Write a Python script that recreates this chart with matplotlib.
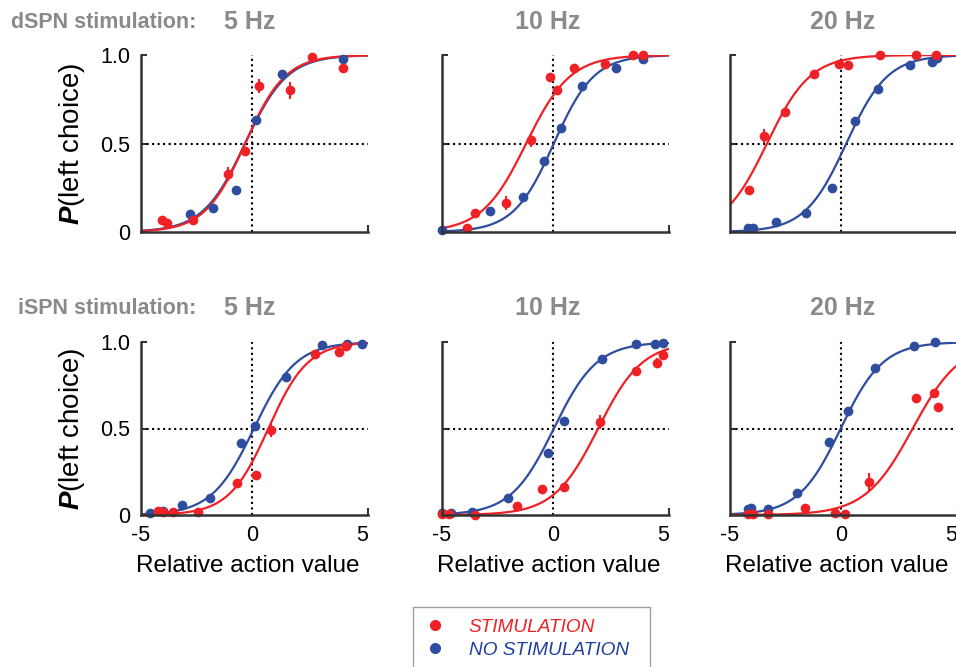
import numpy as np
import matplotlib.pyplot as plt
from matplotlib.lines import Line2D
from matplotlib.patches import Rectangle

plt.rcParams['font.family'] = ['Liberation Sans', 'DejaVu Sans']
plt.rcParams['mathtext.fontset'] = 'custom'
plt.rcParams['mathtext.rm'] = 'Liberation Sans'
plt.rcParams['mathtext.bfit'] = 'Liberation Sans:bold:italic'

RED = '#ee2226'
BLUE = '#2f4d9e'
GRAY = '#8a8a8a'

rows = ['dSPN stimulation:', 'iSPN stimulation:']
freqs = ['5 Hz', '10 Hz', '20 Hz']

# fitted logistic curves (midpoint, slope): [row][col]
stim_fit = [[(-0.3, 1.1), (-1.2, 1.0), (-3.33, 1.02)],
            [(0.75, 1.12), (2.05, 1.0), (3.25, 0.93)]]
nostim_fit = [[(-0.3, 1.05), (0.05, 1.1), (0.25, 1.07)],
              [(0.1, 1.05), (0.05, 1.03), (0.0, 1.05)]]

# dSPN 5 Hz
d5_stim_x = [-4.07, -3.84, -2.64, -1.07, -0.32, 0.33, 1.71, 2.73, 4.14]
d5_stim_p = [0.068, 0.053, 0.068, 0.33, 0.46, 0.825, 0.80, 0.99, 0.925]
d5_stim_err = [0, 0, 0, 0.04, 0, 0.04, 0.05, 0, 0]
d5_nostim_x = [-2.79, -1.77, -0.72, 0.18, 1.35, 4.11]
d5_nostim_p = [0.10, 0.134, 0.24, 0.63, 0.89, 0.98]

# dSPN 10 Hz
d10_stim_x = [-3.89, -3.51, -2.09, -1.0, -0.13, 0.19, 0.97, 2.36, 3.63, 4.08]
d10_stim_p = [0.02, 0.11, 0.166, 0.52, 0.877, 0.80, 0.925, 0.95, 1.0, 1.0]
d10_stim_err = [0, 0, 0.04, 0.04, 0, 0, 0, 0.03, 0, 0]
d10_nostim_x = [-5.0, -2.83, -1.35, -0.40, 0.37, 1.30, 2.87, 4.08]
d10_nostim_p = [0.01, 0.12, 0.20, 0.40, 0.585, 0.825, 0.925, 0.975]

# dSPN 20 Hz
d20_stim_x = [-4.13, -3.45, -2.51, -1.21, -0.09, 0.33, 1.78, 3.42, 4.32]
d20_stim_p = [0.237, 0.542, 0.68, 0.893, 0.95, 0.943, 1.0, 1.0, 1.0]
d20_stim_err = [0, 0.04, 0, 0, 0, 0, 0, 0, 0]
d20_nostim_x = [-4.2, -3.98, -2.93, -1.58, -0.39, 0.66, 1.70, 3.15, 4.14, 4.35]
d20_nostim_p = [0.02, 0.02, 0.055, 0.11, 0.25, 0.627, 0.81, 0.943, 0.962, 0.985]

# iSPN 5 Hz
i5_stim_x = [-4.22, -4.0, -3.55, -2.42, -0.66, 0.18, 0.89, 2.84, 3.93, 4.26]
i5_stim_p = [0.023, 0.015, 0.02, 0.02, 0.187, 0.23, 0.49, 0.93, 0.94, 0.977]
i5_stim_err = [0, 0, 0, 0.015, 0.02, 0, 0.04, 0, 0, 0]
i5_nostim_x = [-4.6, -4.0, -3.17, -1.89, -0.47, 0.17, 1.56, 3.18, 4.29, 5.0]
i5_nostim_p = [0.01, 0.023, 0.058, 0.10, 0.414, 0.516, 0.80, 0.98, 0.988, 0.99]

# iSPN 10 Hz
i10_stim_x = [-5.0, -4.7, -3.51, -1.6, -0.48, 0.52, 2.14, 3.74, 4.71, 5.0]
i10_stim_p = [0.004, 0.004, 0.0, 0.052, 0.148, 0.164, 0.54, 0.834, 0.877, 0.925]
i10_stim_err = [0, 0, 0, 0, 0, 0, 0.04, 0, 0.03, 0]
i10_nostim_x = [-5.0, -4.59, -3.63, -2.02, -0.22, 0.52, 2.24, 3.78, 4.63, 5.0]
i10_nostim_p = [0.01, 0.013, 0.02, 0.096, 0.36, 0.545, 0.90, 0.988, 0.988, 0.996]

# iSPN 20 Hz
i20_stim_x = [-4.2, -3.98, -3.3, -1.61, -0.27, 0.21, 1.26, 3.38, 4.22, 4.39]
i20_stim_p = [0.004, 0.004, 0.004, 0.042, 0.01, 0.004, 0.19, 0.678, 0.703, 0.622]
i20_stim_err = [0, 0, 0, 0, 0, 0, 0.05, 0, 0, 0]
i20_nostim_x = [-4.2, -4.05, -3.3, -1.96, -0.54, 0.33, 1.55, 3.32, 4.27]
i20_nostim_p = [0.035, 0.042, 0.035, 0.125, 0.424, 0.60, 0.85, 0.977, 1.0]

stim_pts = [[(d5_stim_x, d5_stim_p, d5_stim_err), (d10_stim_x, d10_stim_p, d10_stim_err),
             (d20_stim_x, d20_stim_p, d20_stim_err)],
            [(i5_stim_x, i5_stim_p, i5_stim_err), (i10_stim_x, i10_stim_p, i10_stim_err),
             (i20_stim_x, i20_stim_p, i20_stim_err)]]
nostim_pts = [[(d5_nostim_x, d5_nostim_p), (d10_nostim_x, d10_nostim_p), (d20_nostim_x, d20_nostim_p)],
              [(i5_nostim_x, i5_nostim_p), (i10_nostim_x, i10_nostim_p), (i20_nostim_x, i20_nostim_p)]]


def logistic(x, x0, k):
    return 1.0 / (1.0 + np.exp(-k * (x - x0)))


W, H = 956, 667
fig = plt.figure(figsize=(W / 100, H / 100), dpi=100)

col_left = [141, 442, 730]
row_bottom = [232, 515]
row_height = [177, 173]
hz_x = [250, 548, 843]
hdr_y = [22, 308]

xs = np.linspace(-5, 5.3, 300)
for r in range(2):
    fig.text(196 / W, 1 - hdr_y[r] / H, rows[r], ha='right', va='center',
             fontsize=15.5, fontweight='bold', color=GRAY)
    fig.text(0.075, 1 - (row_bottom[r] - row_height[r] / 2) / H,
             r'$\mathbfit{P}$(left choice)', rotation=90, ha='center', va='center', fontsize=20)
    for c in range(3):
        fig.text(hz_x[c] / W, 1 - hdr_y[r] / H, freqs[c], ha='center', va='center',
                 fontsize=18, fontweight='bold', color=GRAY)
        ax = fig.add_axes([col_left[c] / W, 1 - row_bottom[r] / H, 227 / W, row_height[r] / H])
        ax.set_xlim(-5, 5.25)
        ax.set_ylim(0, 1)
        ax.axhline(0.5, color='black', ls=':', lw=1.5)
        ax.axvline(0, color='black', ls=':', lw=1.5)
        ax.plot(xs, logistic(xs, *nostim_fit[r][c]), color=BLUE, lw=1.6)
        ax.plot(xs, logistic(xs, *stim_fit[r][c]), color=RED, lw=1.6)
        bx, bp = nostim_pts[r][c]
        ax.plot(bx, bp, 'o', color=BLUE, ms=7, mec='none', clip_on=False)
        sx, sp, se = stim_pts[r][c]
        ax.errorbar(sx, sp, yerr=se, fmt='o', color=RED, ms=7, mec='none',
                    elinewidth=1.5, capsize=0, clip_on=False)
        for s in ['top', 'right']:
            ax.spines[s].set_visible(False)
        for s in ['left', 'bottom']:
            ax.spines[s].set_linewidth(1.8)
            ax.spines[s].set_color('#333333')
        ax.set_yticks([0, 0.5, 1.0])
        ax.set_xticks([-5, 0, 5])
        ax.set_xticks([5.25], minor=True)
        ax.tick_params(axis='y', direction='in', length=4, width=1.5, pad=8, labelsize=15.5,
                       color='#333333')
        ax.tick_params(axis='x', length=0, pad=7, labelsize=15.5)
        ax.tick_params(axis='x', which='minor', direction='in', length=5, width=1.5, color='#333333')
        if c == 0:
            ax.set_yticklabels(['0', '0.5', '1.0'])
        else:
            ax.set_yticklabels([])
        if r == 1:
            ax.set_xticklabels(['-5', '0', '5'])
            ax.set_xlabel('Relative action value', fontsize=17.5, labelpad=5)
            ax.xaxis.set_label_coords(0.47, -0.23)
        else:
            ax.set_xticklabels([])

fig.patches.append(Rectangle((413 / W, -0.01), 237 / W, (667 - 607) / H + 0.01,
                             transform=fig.transFigure, fill=False, ec='#a0a0a0', lw=1.0))
handles = [Line2D([], [], marker='o', ls='none', color=RED, ms=8, mec='none'),
           Line2D([], [], marker='o', ls='none', color=BLUE, ms=8, mec='none')]
leg = fig.legend(handles, ['STIMULATION', 'NO STIMULATION'], loc='upper left',
                 bbox_to_anchor=(420 / W, 1 - 613 / H), frameon=False,
                 prop={'style': 'italic', 'size': 13.7},
                 handlelength=1.0, handletextpad=1.25, borderpad=0.3, labelspacing=0.3,
                 borderaxespad=0)
for t, col in zip(leg.get_texts(), [RED, '#1f3fa0']):
    t.set_color(col)

fig.savefig('out.png', dpi=100)
